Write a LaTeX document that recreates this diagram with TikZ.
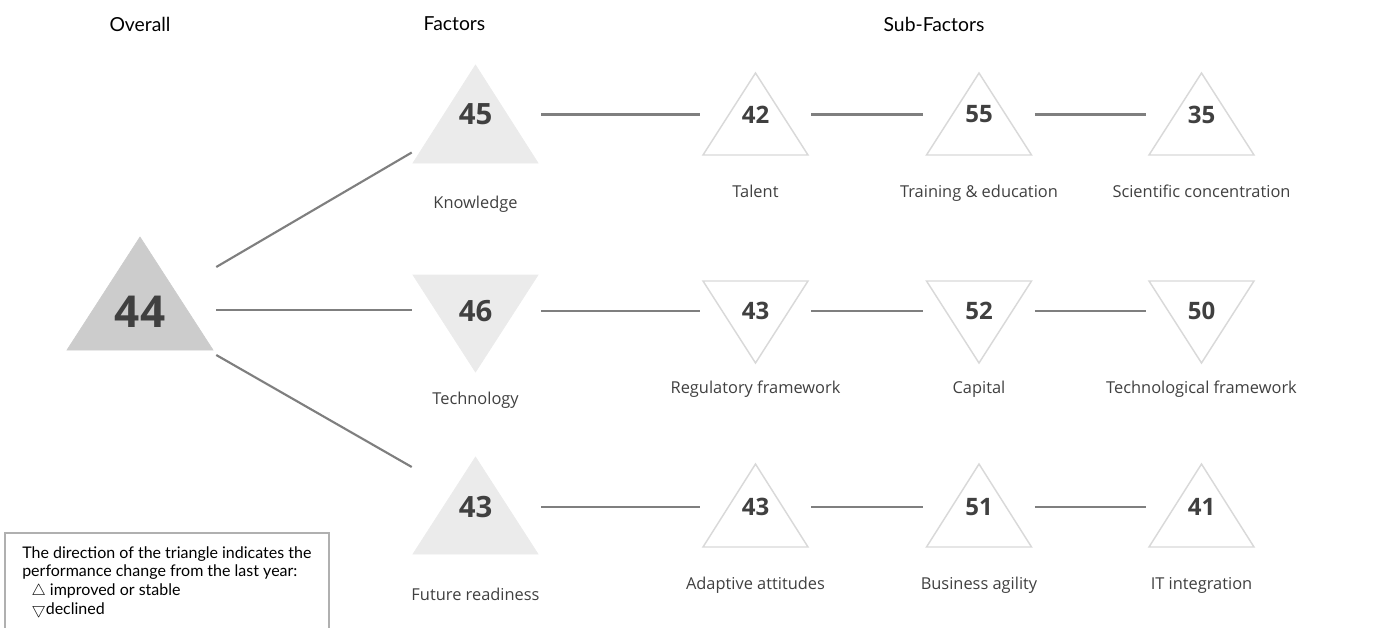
\documentclass[tikz,border=0pt]{standalone}
\usepackage{fontspec}
\setmainfont{Open Sans}
\newfontfamily\gillfont{Lato}
\usetikzlibrary{calc,positioning}
\definecolor{ovfill}{HTML}{CCCCCC}
\definecolor{facfill}{HTML}{EBEBEB}
\definecolor{subline}{HTML}{D9D9D9}
\definecolor{linkgray}{HTML}{7F7F7F}
\definecolor{txtgray}{HTML}{404040}
\definecolor{boxgray}{HTML}{B0B0B0}
\tikzset{
  ovtri/.style={fill=ovfill, draw=ovfill, line width=0.5pt},
  factri/.style={fill=facfill, draw=facfill, line width=0.5pt},
  subtri/.style={fill=white, draw=subline, line width=1.1pt, line join=miter},
  ovnum/.style={inner sep=0pt, minimum width=114pt, text=txtgray, font=\fontsize{33}{33}\selectfont\bfseries},
  facnum/.style={inner sep=0pt, minimum width=98.25pt, text=txtgray, font=\fontsize{22}{22}\selectfont\bfseries},
  subnum/.style={inner sep=0pt, minimum width=83.25pt, text=txtgray, font=\fontsize{18}{18}\selectfont\bfseries},
  lbl/.style={inner sep=0pt, yshift=-2.2pt, text height=0.75em, text depth=0.25em, text=txtgray, font=\fontsize{12.3}{14}\selectfont},
  head/.style={inner sep=0pt, font=\gillfont\fontsize{14.5}{16}\selectfont},
  link/.style={draw=linkgray, line width=1.6pt},
  legbox/.style={draw=boxgray, line width=0.8pt},
  legtext/.style={inner sep=0pt, align=left, font=\gillfont\fontsize{12}{14}\selectfont}
}
% triangles: centre, width and height
\def\uptri[#1](#2)(#3:#4){\filldraw[#1] ($(#2)+(-#3/2,#4/2)$) -- ($(#2)+(0,-#4/2)$) -- ($(#2)+(#3/2,#4/2)$) -- cycle;}
\def\downtri[#1](#2)(#3:#4){\filldraw[#1] ($(#2)+(-#3/2,-#4/2)$) -- ($(#2)+(0,#4/2)$) -- ($(#2)+(#3/2,-#4/2)$) -- cycle;}
\begin{document}
\begin{tikzpicture}[x=0.75pt,y=-0.75pt]
    \useasboundingbox (0,0) rectangle (1396,628);
    % Column x positions
    \def\xO{140}
    \def\xF{475.5}
    \def\xA{755.5}
    \def\xB{979}
    \def\xC{1201.5}

    % Column heads
    \node[head] (h-overall) at (\xO,24) {Overall};
    \node[head] (h-factors) at (454.5,24) {Factors};
    \node[head] (h-subfactors) at (934,24) {Sub-Factors};

    % Triangles
    \uptri[ovtri](\xO,293.5)(146:113)
    \uptri[factri](\xF,114)(125:98)
    \downtri[factri](\xF,323.5)(125:97)
    \uptri[factri](\xF,505.5)(125:97)
    \foreach \x in {\xA,\xB,\xC}{
        \uptri[subtri](\x,114)(105:82)
        \downtri[subtri](\x,322)(105:82)
        \uptri[subtri](\x,505.5)(105:83)
    }

    % Scores
    \node[ovnum] (overall) at (\xO,312) {44};
    \node[facnum] (know) at (\xF,114.5) {45};
    \node[facnum] (tech) at (\xF,311) {46};
    \node[facnum] (future) at (\xF,507) {43};
    \node[subnum] (talent) at (\xA,114.5) {42};
    \node[subnum] (training) at (\xB,114.5) {55};
    \node[subnum] (science) at (\xC,114.5) {35};
    \node[subnum] (regul) at (\xA,311) {43};
    \node[subnum] (capital) at (\xB,311) {52};
    \node[subnum] (techfw) at (\xC,311) {50};
    \node[subnum] (adapt) at (\xA,507) {43};
    \node[subnum] (agility) at (\xB,507) {51};
    \node[subnum] (itint) at (\xC,507) {41};

    % Names
    \node[lbl] (know-lbl) at (\xF,202) {Knowledge};
    \node[lbl] (tech-lbl) at (\xF,398) {Technology};
    \node[lbl] (future-lbl) at (\xF,594) {Future readiness};
    \node[lbl] (talent-lbl) at (\xA,191) {Talent};
    \node[lbl] (training-lbl) at (\xB,191) {Training \& education};
    \node[lbl] (science-lbl) at (\xC,191) {Scientific concentration};
    \node[lbl] (regul-lbl) at (\xA,387) {Regulatory framework};
    \node[lbl] (capital-lbl) at (\xB,387) {Capital};
    \node[lbl] (techfw-lbl) at (\xC,387) {Technological framework};
    \node[lbl] (adapt-lbl) at (\xA,583) {Adaptive attitudes};
    \node[lbl] (agility-lbl) at (\xB,583) {Business agility};
    \node[lbl] (itint-lbl) at (\xC,583) {IT integration};

    % Links
    \draw[link] ($(overall.east)+(0,-45)$) -- ($(know.west)+(2,38)$);
    \draw[link] ($(overall.east)+(0,-2)$) -- ($(tech.west)+(2,-1)$);
    \draw[link] ($(overall.east)+(0,43)$) -- ($(future.west)+(2,-40)$);
    \draw[link] (know.east) -- (talent.west);
    \draw[link] (talent.east) -- (training.west);
    \draw[link] (training.east) -- (science.west);
    \draw[link] (tech.east) -- (regul.west);
    \draw[link] (regul.east) -- (capital.west);
    \draw[link] (capital.east) -- (techfw.west);
    \draw[link] (future.east) -- (adapt.west);
    \draw[link] (adapt.east) -- (agility.west);
    \draw[link] (agility.east) -- (itint.west);

    % Legend
    \draw[legbox] (5,640) |- (329,533) -- (329,640);
    \node[legtext, anchor=north west] (legend) at (22,546) {The direction of the triangle indicates the\\performance change from the last year:\\\hspace{7pt}$\bigtriangleup$ improved or stable\\\hspace{7pt}$\bigtriangledown$declined};
\end{tikzpicture}
\end{document}
